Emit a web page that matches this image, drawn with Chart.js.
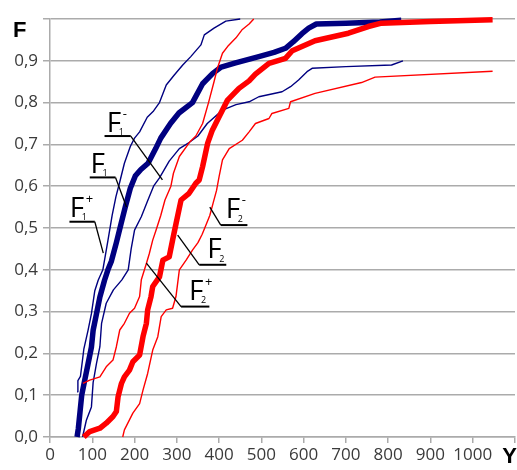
<!DOCTYPE html>
<html>
<head>
<meta charset="utf-8">
<style>
  body { margin: 0; background: #fff; }
  canvas { display: block; }
</style>
</head>
<body>
<canvas id="chart" width="517" height="470"></canvas>

<script src="https://cdn.jsdelivr.net/npm/chart.js"></script>

<script>
  // tick labels (1100 and 1,0 are covered by the axis letters)
  const xTickLabels = ['0', '100', '200', '300', '400', '500', '600', '700', '800', '900', '1000', '']
  const yTickLabels = ['0,0', '0,1', '0,2', '0,3', '0,4', '0,5', '0,6', '0,7', '0,8', '0,9', '']

  // F1 - empirical curve (thick navy)
  const f1X = [64, 67, 71, 75, 82, 90, 98, 102, 110, 118, 129, 137, 145, 157, 168, 178, 190, 202, 215, 232, 250, 262, 285, 305, 337, 361, 385, 405, 439, 494, 530, 557, 575, 596, 612, 630, 700, 780, 831]
  const f1Y = [0, 0.02, 0.06, 0.10, 0.135, 0.175, 0.215, 0.255, 0.295, 0.335, 0.375, 0.40, 0.42, 0.465, 0.51, 0.55, 0.595, 0.625, 0.64, 0.655, 0.69, 0.715, 0.75, 0.775, 0.80, 0.845, 0.87, 0.885, 0.895, 0.91, 0.92, 0.93, 0.945, 0.965, 0.978, 0.988, 0.99, 0.993, 0.997]

  // F1+ (thin navy, left)
  const f1pX = [64, 66, 72, 77, 80, 90, 98, 106, 114, 125, 137, 147, 156, 165, 176, 190, 200, 212, 230, 245, 259, 275, 294, 314, 333, 357, 365, 388, 416, 450]
  const f1pY = [0.108, 0.135, 0.145, 0.185, 0.21, 0.255, 0.295, 0.35, 0.375, 0.40, 0.47, 0.53, 0.575, 0.61, 0.655, 0.695, 0.715, 0.73, 0.765, 0.78, 0.80, 0.842, 0.866, 0.89, 0.91, 0.938, 0.962, 0.978, 0.995, 1.0]

  // F1- (thin navy, right)
  const f1mX = [77, 86, 98, 102, 110, 118, 122, 133, 150, 170, 185, 192, 200, 216, 231, 245, 259, 282, 306, 330, 350, 372, 408, 440, 471, 494, 549, 569, 588, 608, 620, 700, 808, 835]
  const f1mY = [0, 0.04, 0.072, 0.13, 0.176, 0.216, 0.272, 0.32, 0.352, 0.376, 0.40, 0.45, 0.495, 0.527, 0.565, 0.60, 0.62, 0.66, 0.69, 0.705, 0.72, 0.75, 0.782, 0.795, 0.802, 0.814, 0.826, 0.838, 0.854, 0.874, 0.882, 0.886, 0.89, 0.9]

  // F2 - empirical curve (thick red)
  const f2X = [80, 94, 118, 133, 149, 157, 161, 169, 176, 188, 196, 212, 220, 228, 231, 239, 243, 259, 267, 282, 290, 298, 310, 329, 345, 353, 361, 373, 384, 400, 412, 420, 447, 471, 486, 518, 557, 573, 627, 706, 753, 784, 900, 1047]
  const f2Y = [0, 0.013, 0.021, 0.033, 0.049, 0.061, 0.096, 0.128, 0.144, 0.16, 0.18, 0.196, 0.24, 0.272, 0.304, 0.336, 0.36, 0.383, 0.423, 0.431, 0.471, 0.51, 0.567, 0.583, 0.607, 0.615, 0.647, 0.703, 0.734, 0.766, 0.79, 0.806, 0.834, 0.852, 0.868, 0.894, 0.906, 0.924, 0.948, 0.966, 0.982, 0.99, 0.994, 0.998]

  // F2+ (thin red, left)
  const f2pX = [78, 94, 118, 133, 149, 157, 165, 176, 188, 200, 212, 216, 228, 235, 243, 251, 262, 272, 286, 292, 306, 330, 345, 361, 375, 388, 396, 408, 420, 440, 455, 471, 482]
  const f2pY = [0.128, 0.136, 0.144, 0.168, 0.184, 0.216, 0.256, 0.272, 0.296, 0.308, 0.336, 0.376, 0.415, 0.439, 0.471, 0.495, 0.53, 0.567, 0.6, 0.631, 0.671, 0.705, 0.72, 0.75, 0.8, 0.85, 0.882, 0.918, 0.934, 0.955, 0.975, 0.988, 1.0]

  // F2- (thin red, right)
  const f2mX = [172, 176, 196, 212, 220, 231, 243, 255, 263, 275, 290, 298, 306, 322, 337, 350, 360, 368, 378, 386, 394, 400, 408, 424, 455, 471, 486, 518, 525, 565, 569, 627, 737, 769, 1047]
  const f2mY = [0, 0.017, 0.057, 0.08, 0.112, 0.152, 0.208, 0.24, 0.288, 0.304, 0.308, 0.336, 0.4, 0.423, 0.447, 0.465, 0.485, 0.505, 0.53, 0.56, 0.59, 0.623, 0.663, 0.69, 0.71, 0.73, 0.75, 0.762, 0.774, 0.786, 0.802, 0.822, 0.848, 0.861, 0.875]

  // callout texts: F with subscript / superscript
  const calloutSubs = ['1', '1', '1', '2', '2', '2']
  const calloutSups = ['-', '', '+', '-', '', '+']

  const NAVY = '#000080'
  const RED = '#ff0000'

  const pts = (xs, ys) => xs.map((v, i) => ({ x: v, y: ys[i] }))

  function series(label, xs, ys, color, width, order) {
    return {
      label,
      data: pts(xs, ys),
      borderColor: color,
      backgroundColor: color,
      borderWidth: width,
      pointRadius: 0,
      tension: 0,
      fill: false,
      order,
      borderJoinStyle: 'round',
      clip: 4
    }
  }

  // callout placement in data units (underline from x0 to x1 at y, leader to end point)
  const calloutPlaces = [
    { text: [134, 0.730], line: [129, 191, 0.720], right: true, end: [266, 0.615] },
    { text: [96, 0.632], line: [94, 155, 0.621], right: true, end: [181, 0.550] },
    { text: [47, 0.527], line: [46, 106, 0.515], right: true, end: [126, 0.440] },
    { text: [416, 0.523], line: [404, 467, 0.507], right: false, end: [378, 0.550] },
    { text: [372, 0.428], line: [353, 417, 0.412], right: false, end: [302, 0.483] },
    { text: [329, 0.328], line: [310, 377, 0.312], right: false, end: [228, 0.416] }
  ]

  const marks = {
    id: 'marks',
    afterDraw(chart) {
      const { ctx, chartArea } = chart
      const x = chart.scales.x
      const y = chart.scales.y
      ctx.save()
      ctx.fillStyle = '#000'
      ctx.strokeStyle = '#000'
      ctx.textBaseline = 'alphabetic'

      // axis letters
      ctx.font = 'bold 22px "Liberation Sans"'
      ctx.textAlign = 'left'
      ctx.fillText('F', chartArea.left - 37, chartArea.top + 18)
      ctx.textAlign = 'right'
      ctx.fillText('Y', chart.width, chartArea.bottom + 26)

      ctx.textAlign = 'left'
      calloutPlaces.forEach((c, i) => {
        const ux0 = x.getPixelForValue(c.line[0])
        const ux1 = x.getPixelForValue(c.line[1])
        const uy = y.getPixelForValue(c.line[2])
        const sx = c.right ? ux1 : ux0

        ctx.lineWidth = 2
        ctx.beginPath()
        ctx.moveTo(ux0, uy)
        ctx.lineTo(ux1, uy)
        ctx.stroke()

        ctx.lineWidth = 1.3
        ctx.beginPath()
        ctx.moveTo(sx, uy)
        ctx.lineTo(x.getPixelForValue(c.end[0]), y.getPixelForValue(c.end[1]))
        ctx.stroke()

        const tx = x.getPixelForValue(c.text[0])
        const ty = y.getPixelForValue(c.text[1])
        ctx.font = '28px "Open Sans"'
        ctx.fillText('F', tx, ty)
        ctx.font = '9px "Open Sans"'
        ctx.fillText(calloutSubs[i], tx + 12, ty + 3.5)
        if (calloutSups[i]) {
          ctx.font = '13px "Open Sans"'
          ctx.fillText(calloutSups[i], tx + 16, ty - 14)
        }
      })
      ctx.restore()
    }
  }

  const GRID = '#ababab'

  new Chart(document.getElementById('chart'), {
    type: 'line',
    data: {
      datasets: [
        series('F1+', f1pX, f1pY, NAVY, 1.4, 3),
        series('F1-', f1mX, f1mY, NAVY, 1.4, 3),
        series('F1', f1X, f1Y, NAVY, 5.5, 2),
        series('F2+', f2pX, f2pY, RED, 1.4, 1),
        series('F2-', f2mX, f2mY, RED, 1.4, 1),
        series('F2', f2X, f2Y, RED, 5.5, 0)
      ]
    },
    options: {
      responsive: false,
      animation: false,
      devicePixelRatio: 1,
      layout: { padding: { top: 19, right: 0, bottom: 0, left: 0 } },
      plugins: {
        legend: { display: false },
        tooltip: { enabled: false }
      },
      scales: {
        x: {
          type: 'linear',
          min: 0,
          max: 1100,
          afterFit: s => { s.height = 33 },
          grid: { drawOnChartArea: false, drawTicks: true, tickLength: 6, color: GRID, lineWidth: 1.5 },
          border: { display: true, color: GRID, width: 1.5 },
          ticks: {
            stepSize: 100,
            autoSkip: false,
            maxRotation: 0,
            padding: 2,
            color: '#3a3a3a',
            font: { family: 'Open Sans', size: 17 },
            callback: (v, i) => xTickLabels[i]
          }
        },
        y: {
          min: 0,
          max: 1,
          afterFit: s => { s.width = 50 },
          grid: { color: GRID, lineWidth: 1.5, tickLength: 7 },
          border: { display: true, color: GRID, width: 1.5 },
          ticks: {
            stepSize: 0.1,
            autoSkip: false,
            padding: 5,
            color: '#3a3a3a',
            font: { family: 'Open Sans', size: 17 },
            callback: (v, i) => yTickLabels[i]
          }
        }
      }
    },
    plugins: [marks]
  })
</script>
</body>
</html>
